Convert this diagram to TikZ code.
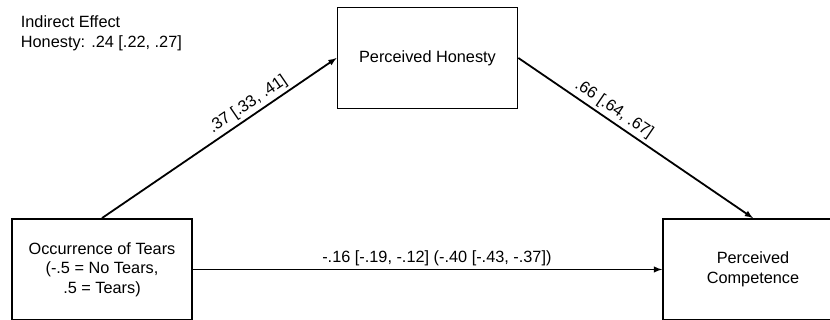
\documentclass[tikz,border=0pt]{standalone}
\usepackage{fontspec}
\setmainfont{Liberation Sans}
\usepackage{tikz}

\begin{document}
\begin{tikzpicture}[x=1pt,y=1pt,line width=1.8pt,>=latex,
  font=\fontsize{16.3}{19.5}\selectfont,
  box/.style={draw,rectangle,minimum width=180pt,minimum height=101pt,align=center,inner sep=0pt},
  coef/.style={above,sloped,inner sep=3pt}]
\useasboundingbox (0,0) rectangle (830,320);
\node[box] (hon) at (427.5,262) {Perceived Honesty};
\node[box] (tears) at (102,50.5) {Occurrence of Tears\\(-.5 = No Tears,\\.5 = Tears)};
\node[box] (comp) at (753,50.5) {Perceived\\Competence};
\node[anchor=north west,align=left,inner sep=0pt] (ind) at (20,305) {Indirect Effect\\Honesty: .24 [.22, .27]};
\draw [->] (tears.north) -- node[coef,pos=0.65] {.37 [.33, .41]} (hon.west);
\draw [->] (hon.east) -- node[coef,pos=0.38] {.66 [.64, .67]} (comp.north);
\draw [->] (tears.east) -- node[coef,pos=0.52] {-.16 [-.19, -.12] (-.40 [-.43, -.37])} (comp.west);
\end{tikzpicture}
\end{document}
